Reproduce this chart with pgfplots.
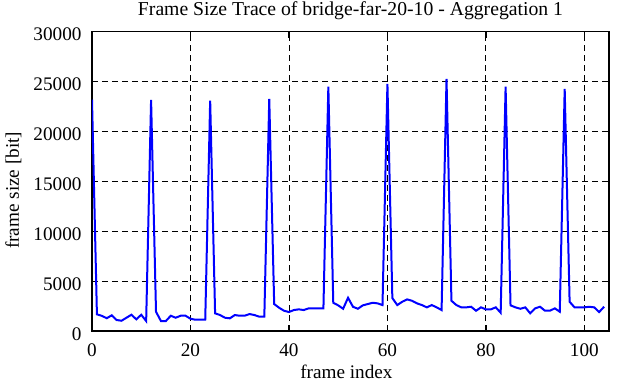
\documentclass[border=0pt]{standalone}
\usepackage{fontspec}
\setmainfont{Liberation Serif}
\usepackage{pgfplots}
\pgfplotsset{compat=1.18}
\begin{document}
\begin{tikzpicture}
\useasboundingbox (-92bp,-51bp) rectangle (525bp,331bp);
\begin{axis}[
  scale only axis,
  width=517bp, height=299.3bp,
  xmin=0, xmax=105, ymin=0, ymax=30000,
  xtick={0,20,40,60,80,100},
  ytick={0,5000,10000,15000,20000,25000,30000},
  font=\fontsize{19.2bp}{23bp}\selectfont,
  /pgf/number format/assume math mode=true,
  /pgf/number format/1000 sep={},
  scaled y ticks=false,
  axis line style={line width=1.6bp, black},
  tick align=inside,
  major tick length=6bp,
  tick style={line width=1.2bp, black},
  grid=major,
  major grid style={line width=0.9bp, black, dash pattern=on 6bp off 4bp},
  xticklabel style={anchor=base, yshift=-25.7bp},
  yticklabel style={anchor=east, inner sep=0pt, xshift=-10.3bp, yshift=-3bp},
  title={Frame Size Trace of bridge-far-20-10 - Aggregation 1},
  title style={at={(axis description cs:0.5,1.0358)}, anchor=base, inner sep=0pt, font=\fontsize{19.7bp}{23bp}\selectfont},
  xlabel={frame index},
  xlabel style={at={(axis description cs:0.492,-0.158)}, anchor=base, inner sep=0pt},
  ylabel={frame size [bit]},
  ylabel style={at={(axis description cs:-0.1518,0.47)}, anchor=center, inner sep=0pt},
]
\addplot[color={rgb,255:red,0;green,0;blue,255}, line width=2bp, mark=none] table {
x y
0 23200
1 1670
2 1520
3 1280
4 1570
5 1100
6 1030
7 1330
8 1630
9 1170
10 1630
11 1000
12 23170
13 1930
14 1000
15 1000
16 1530
17 1330
18 1530
19 1530
20 1230
21 1130
22 1130
23 1130
24 23100
25 1770
26 1600
27 1330
28 1270
29 1600
30 1530
31 1530
32 1700
33 1600
34 1430
35 1450
36 23270
37 2700
38 2330
39 2030
40 1900
41 2100
42 2170
43 2100
44 2270
45 2270
46 2270
47 2270
48 24500
49 2830
50 2570
51 2230
52 3330
53 2430
54 2230
55 2570
56 2700
57 2830
58 2770
59 2600
60 24770
61 3300
62 2600
63 2930
64 3170
65 3030
66 2770
67 2600
68 2370
69 2600
70 2370
71 2100
72 25270
73 3030
74 2600
75 2370
76 2370
77 2430
78 2030
79 2370
80 2170
81 2170
82 2370
83 1830
84 24500
85 2570
86 2370
87 2230
88 2370
89 1770
90 2270
91 2430
92 2030
93 2030
94 2270
95 1930
96 24270
97 2930
98 2370
99 2370
100 2370
101 2430
102 2370
103 1900
104 2430
};
\end{axis}
\end{tikzpicture}
\end{document}
